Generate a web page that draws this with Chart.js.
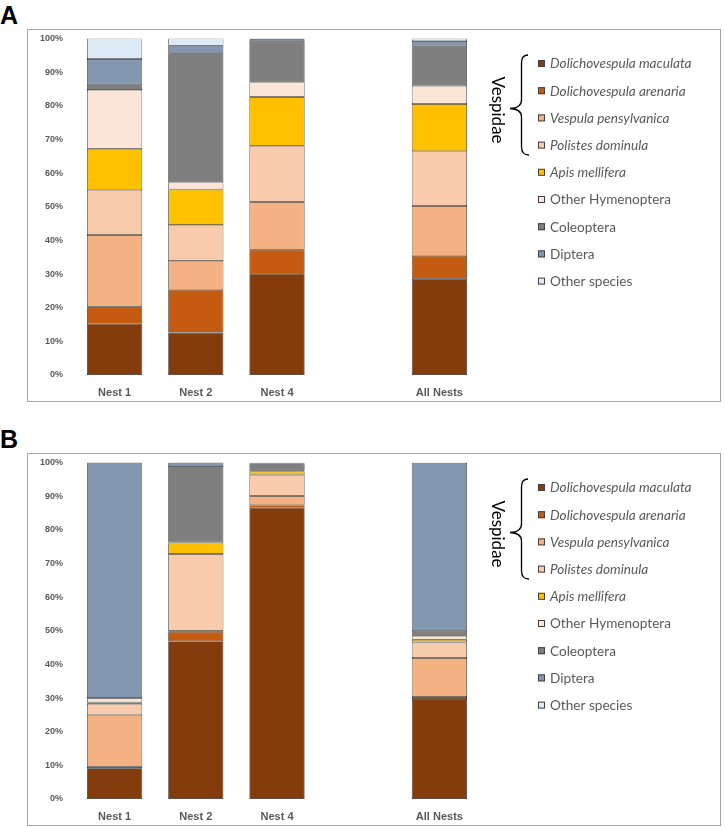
<!DOCTYPE html>
<html lang="en">
<head>
    <meta charset="UTF-8">
    <title>Prey composition by nest</title>
    <script src="https://cdn.jsdelivr.net/npm/chart.js"></script>
    <style>
        body { margin: 0; background: #fff; width: 725px; height: 827px; position: relative; overflow: hidden; }
        .letter { position: absolute; left: 0; font: bold 25px "Liberation Sans", Arial, sans-serif; color: #000; }
        .panel { position: absolute; left: 27px; width: 692px; height: 371px; border: 1px solid #a6a6a6; }
    </style>
</head>
<body>

<div class="letter" style="top:1px;">A</div>
<div class="panel" style="top:29px;"><canvas id="chartA"></canvas></div>

<div class="letter" style="top:425px;">B</div>
<div class="panel" style="top:453px;"><canvas id="chartB"></canvas></div>

<script>
    // categories (blank slot separates the single nests from the pooled bar)
    const categories = ['Nest 1', 'Nest 2', 'Nest 4', '', 'All Nests'];

    const seriesNames = [
        'Dolichovespula maculata', 'Dolichovespula arenaria', 'Vespula pensylvanica',
        'Polistes dominula', 'Apis mellifera', 'Other Hymenoptera',
        'Coleoptera', 'Diptera', 'Other species'
    ];
    const seriesColors = ['#843c0c', '#c55a11', '#f4b183', '#f8cbad', '#ffc000', '#fbe5d6', '#7f7f7f', '#8497b0', '#deebf7'];
    const italicCount = 5;   // species names are written in italics

    const yTicks = [0, 10, 20, 30, 40, 50, 60, 70, 80, 90, 100];

    // panel A, % per nest: Nest 1, Nest 2, Nest 4, All Nests
    const aMaculata  = [15.2, 12.6, 30.1, 28.6];
    const aArenaria  = [5.2, 12.7, 7.1, 6.8];
    const aPensylv   = [21.2, 8.6, 14.2, 14.8];
    const aDominula  = [13.4, 10.7, 16.7, 16.3];
    const aApis      = [12.2, 10.5, 14.5, 14.0];
    const aOtherHym  = [17.5, 2.2, 4.4, 5.4];
    const aColeo     = [1.8, 38.3, 12.0, 12.1];
    const aDiptera   = [7.4, 2.2, 0.6, 1.2];
    const aOther     = [6.1, 2.2, 0.4, 0.8];

    // panel B
    const bMaculata  = [9.1, 46.9, 86.5, 29.7];
    const bArenaria  = [0.5, 2.8, 0.8, 0.6];
    const bPensylv   = [15.4, 0.2, 2.7, 11.6];
    const bDominula  = [3.3, 22.9, 6.3, 4.6];
    const bApis      = [0.4, 3.4, 1.0, 0.8];
    const bOtherHym  = [1.2, 0.0, 0.4, 1.2];
    const bColeo     = [0.1, 22.7, 2.0, 1.5];
    const bDiptera   = [70.0, 1.1, 0.2, 49.9];
    const bOther     = [0.0, 0.0, 0.1, 0.1];

    const panelA = [aMaculata, aArenaria, aPensylv, aDominula, aApis, aOtherHym, aColeo, aDiptera, aOther];
    const panelB = [bMaculata, bArenaria, bPensylv, bDominula, bApis, bOtherHym, bColeo, bDiptera, bOther];

    // put a gap (null) in the empty category slot
    function withGap(vals) {
        return [vals[0], vals[1], vals[2], null, vals[3]];
    }

    const legendPlugin = {
        id: 'sideLegend',
        afterDraw(chart) {
            const ctx = chart.ctx;
            const x0 = 510, y0 = 33.5, step = 27.2;
            ctx.save();
            chart.data.datasets.forEach((ds, i) => {
                const y = y0 + i * step;
                ctx.fillStyle = ds.backgroundColor;
                ctx.fillRect(x0, y - 3.5, 7, 7);
                ctx.strokeStyle = '#404040';
                ctx.lineWidth = 1;
                ctx.strokeRect(x0 + 0.5, y - 3, 6, 6);
                ctx.fillStyle = '#595959';
                ctx.font = (i < italicCount ? 'italic ' : '') + '13.6px Lato, "Open Sans", sans-serif';
                ctx.textBaseline = 'middle';
                ctx.textAlign = 'left';
                ctx.fillText(ds.label, x0 + 12, y + 0.5);
            });

            // curly brace for the wasps
            ctx.strokeStyle = '#000';
            ctx.lineWidth = 1.3;
            ctx.beginPath();
            ctx.moveTo(500, 25);
            ctx.quadraticCurveTo(493.5, 25, 493.5, 33);
            ctx.lineTo(493.5, 70);
            ctx.quadraticCurveTo(493.5, 78, 482, 78.5);
            ctx.quadraticCurveTo(493.5, 79, 493.5, 87);
            ctx.lineTo(493.5, 117);
            ctx.quadraticCurveTo(493.5, 125, 501, 125);
            ctx.stroke();

            ctx.translate(469, 80);
            ctx.rotate(Math.PI / 2);
            ctx.fillStyle = '#000';
            ctx.font = '17px Lato, "Open Sans", sans-serif';
            ctx.textAlign = 'center';
            ctx.textBaseline = 'middle';
            ctx.fillText('Vespidae', 0, 0);
            ctx.restore();
        }
    };

    function makeChart(id, panel) {
        const ctx = document.getElementById(id).getContext('2d');
        return new Chart(ctx, {
            type: 'bar',
            data: {
                labels: categories,
                datasets: panel.map((vals, i) => ({
                    label: seriesNames[i],
                    data: withGap(vals),
                    backgroundColor: seriesColors[i],
                    borderColor: '#262626',
                    borderWidth: 0.7,
                    borderSkipped: false,
                    categoryPercentage: 1,
                    barPercentage: 0.68
                }))
            },
            options: {
                responsive: true,
                maintainAspectRatio: false,
                animation: false,
                layout: { padding: { top: 1, right: 240, left: 0, bottom: 0 } },
                plugins: {
                    legend: { display: false },
                    tooltip: { enabled: false }
                },
                scales: {
                    x: {
                        stacked: true,
                        grid: { display: false },
                        border: { display: false },
                        ticks: {
                            padding: 3,
                            color: '#595959',
                            font: { family: '"Liberation Sans", Arial, sans-serif', size: 11, weight: 'bold' }
                        },
                        afterFit(scale) { scale.height = 26; }
                    },
                    y: {
                        stacked: true,
                        min: 0,
                        max: 100,
                        grid: { display: false },
                        border: { display: false },
                        afterBuildTicks(scale) { scale.ticks = yTicks.map(v => ({ value: v })); },
                        ticks: {
                            padding: 3,
                            color: '#595959',
                            font: { family: '"Liberation Sans", Arial, sans-serif', size: 9, weight: 'bold' },
                            callback: v => v + '%'
                        },
                        afterFit(scale) { scale.width = 46; }
                    }
                }
            },
            plugins: [legendPlugin]
        });
    }

    makeChart('chartA', panelA);
    makeChart('chartB', panelB);
</script>
</body>
</html>
